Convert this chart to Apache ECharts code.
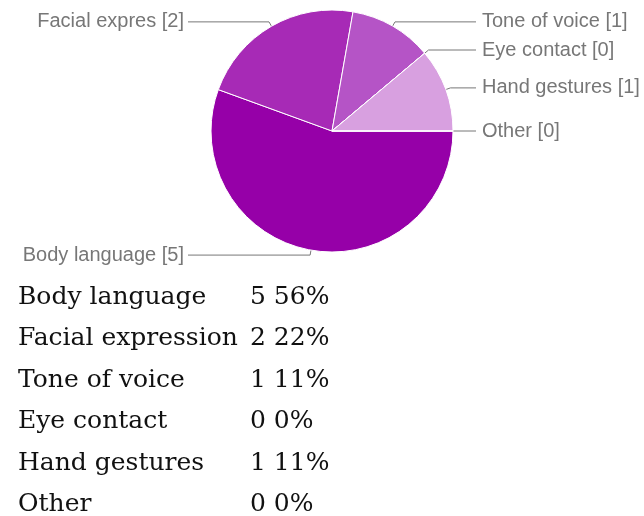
<!DOCTYPE html>
<html>
<head>
<meta charset="utf-8">
<script src="https://cdn.jsdelivr.net/npm/echarts@6/dist/echarts.min.js"></script>
<style>
  html, body { margin: 0; padding: 0; background: #fff; }
  #chart { width: 644px; height: 516px; }
</style>
</head>
<body>
<div id="chart"></div>
<script>
// answers, in pie order (clockwise from 3 o'clock)
const categories = ['Body language', 'Facial expression', 'Tone of voice', 'Eye contact', 'Hand gestures', 'Other'];
const counts = [5, 2, 1, 0, 1, 0];
const percents = [56, 22, 11, 0, 11, 0];
const sliceColors = ['#9600a8', '#a72ab6', '#b554c6', '#c57bd3', '#d8a0e0', '#e8c8ee'];

const CX = 332;
const CY = 131;
const R = 121;
const LINE_REACH = 23; // labels line up this far outside the pie

const chart = echarts.init(document.getElementById('chart'), null, { renderer: 'canvas' });

// summary table under the pie
const tableRows = [];
categories.forEach((name, i) => {
  const y = 297 + i * 41.5;
  tableRows.push({
    type: 'text', x: 18, y: y, silent: true,
    style: { text: name, font: '25px "DejaVu Serif"', fill: '#111', verticalAlign: 'middle' },
  });
  tableRows.push({
    type: 'text', x: 250, y: y, silent: true,
    style: { text: `${counts[i]} ${percents[i]}%`, font: '25px "DejaVu Serif"', fill: '#111', verticalAlign: 'middle' },
  });
});

chart.setOption({
  animation: false,
  series: [
    {
      type: 'pie',
      center: [CX, CY],
      radius: R,
      startAngle: 0,
      clockwise: true,
      silent: true,
      data: categories.map((name, i) => ({
        name,
        value: counts[i],
        itemStyle: { color: sliceColors[i] },
      })),
      itemStyle: { borderColor: '#fff', borderWidth: 1 },
      label: {
        show: true,
        position: 'outside',
        color: '#777',
        fontFamily: 'Arial, "Liberation Sans", sans-serif',
        fontSize: 20,
        formatter: (p) => `${p.name.slice(0, 13)} [${p.value}]`,
      },
      labelLine: {
        show: true,
        length: 5,
        length2: 18,
        lineStyle: { color: '#777', width: 1 },
      },
      labelLayout: (params) => {
        const pts = params.labelLinePoints;
        if (!pts) return {};
        const isLeft = pts[0][0] < CX;
        const endX = isLeft ? CX - R - LINE_REACH : CX + R + LINE_REACH;
        const y = pts[1][1];
        return {
          x: isLeft ? endX - 4 : endX + 6,
          y: y,
          align: isLeft ? 'right' : 'left',
          verticalAlign: 'middle',
          labelLinePoints: [pts[0], pts[1], [endX, y]],
        };
      },
    },
  ],
  graphic: tableRows,
});
</script>
</body>
</html>
